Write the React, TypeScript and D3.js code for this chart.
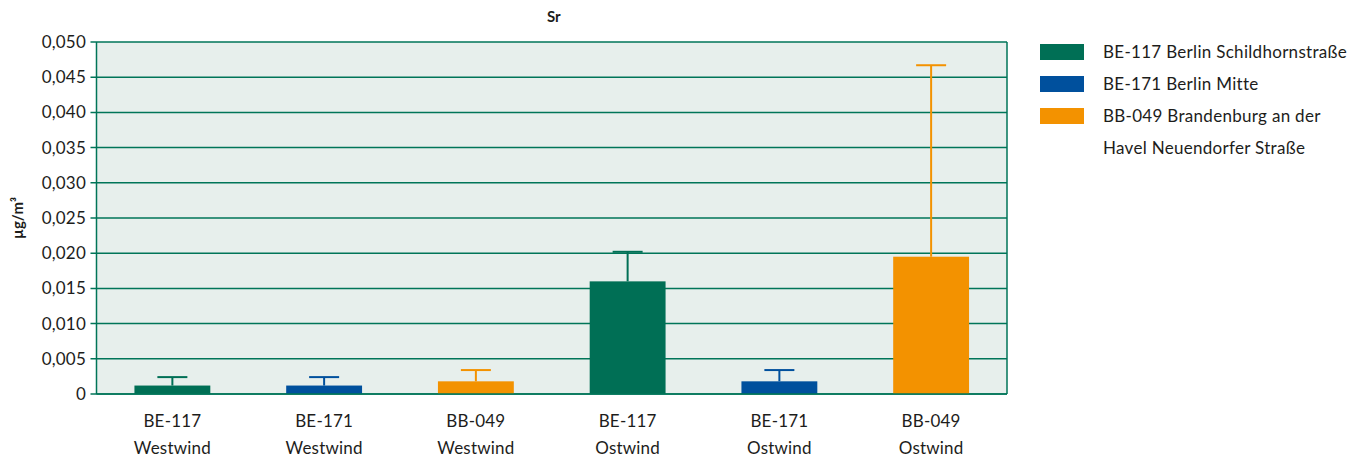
import React from 'react';
import * as d3 from 'd3';

const categories = ['BE-117|Westwind', 'BE-171|Westwind', 'BB-049|Westwind', 'BE-117|Ostwind', 'BE-171|Ostwind', 'BB-049|Ostwind'];
const stations = ['BE-117', 'BE-171', 'BB-049', 'BE-117', 'BE-171', 'BB-049'];
const values = [0.0012, 0.0012, 0.0018, 0.016, 0.0018, 0.0195];
const errorTops = [0.0024, 0.0024, 0.0034, 0.0202, 0.0034, 0.0467];
const yTicks = [0, 0.005, 0.01, 0.015, 0.02, 0.025, 0.03, 0.035, 0.04, 0.045, 0.05];
const legendLabels = ['BE-117 Berlin Schildhornstraße', 'BE-171 Berlin Mitte', 'BB-049 Brandenburg an der|Havel Neuendorfer Straße'];
const legendKeys = ['BE-117', 'BE-171', 'BB-049'];

const colorOf: Record<string, string> = {
  'BE-117': '#006f55',
  'BE-171': '#00509d',
  'BB-049': '#f39200',
};

const font = 'Lato, "Open Sans", sans-serif';
const ink = '#1d1d1b';
const axisGreen = '#007558';

export default function App() {
  const W = 1367;
  const H = 459;
  const left = 96.5;
  const right = 1007;
  const top = 42;
  const bottom = 394;

  const x = d3.scaleBand().domain(categories).range([left, right]).paddingInner(0).paddingOuter(0);
  const y = d3.scaleLinear().domain([0, 0.05]).range([bottom, top]);
  const barW = x.bandwidth() * 0.5;
  const fmt = (v: number) => (v === 0 ? '0' : d3.format('.3f')(v).replace('.', ','));

  return (
    <svg width={W} height={H} style={{ position: 'absolute', left: 0, top: 0 }} fontFamily={font}>
      <rect x={left} y={top} width={right - left} height={bottom - top} fill="#e7efec" />
      {yTicks.map(t => (
        <g key={t}>
          <line x1={left - 6} x2={right} y1={y(t)} y2={y(t)} stroke={axisGreen} strokeWidth={1.5} />
          <text x={86} y={y(t)} dy="0.35em" textAnchor="end" fontSize={17} letterSpacing={0.2} fill={ink}>{fmt(t)}</text>
        </g>
      ))}
      <line x1={left} x2={left} y1={top} y2={bottom} stroke={axisGreen} strokeWidth={1.5} />
      <line x1={right} x2={right} y1={top} y2={bottom} stroke={axisGreen} strokeWidth={1.5} />
      {categories.map((c, i) => {
        const cx = (x(c) as number) + x.bandwidth() / 2;
        const col = colorOf[stations[i]];
        return (
          <g key={c}>
            <line x1={cx} x2={cx} y1={y(values[i])} y2={y(errorTops[i])} stroke={col} strokeWidth={2} />
            <line x1={cx - 15} x2={cx + 15} y1={y(errorTops[i])} y2={y(errorTops[i])} stroke={col} strokeWidth={2} />
            <rect x={cx - barW / 2} y={y(values[i])} width={barW} height={bottom - y(values[i])} fill={col} />
          </g>
        );
      })}
      <line x1={left} x2={right} y1={bottom} y2={bottom} stroke={axisGreen} strokeWidth={1.5} />
      {categories.map(c => {
        const cx = (x(c) as number) + x.bandwidth() / 2;
        const [a, b] = c.split('|');
        return (
          <text key={c + 'l'} x={cx} textAnchor="middle" fontSize={17} letterSpacing={0.2} fill={ink}>
            <tspan x={cx} y={427}>{a}</tspan>
            <tspan x={cx} y={454}>{b}</tspan>
          </text>
        );
      })}
      <text x={(left + right) / 2 + 2} y={22} textAnchor="middle" fontSize={15} fontWeight="bold" fill={ink}>Sr</text>
      <text transform={`translate(23,218) rotate(-90)`} textAnchor="middle" fontSize={15} fontWeight="bold" fill={ink}>
        µg/m³
      </text>
      {legendKeys.map((k, i) => {
        const yy = 44 + i * 32;
        const lines = legendLabels[i].split('|');
        return (
          <g key={k}>
            <rect x={1040} y={yy} width={44} height={16} fill={colorOf[k]} />
            {lines.map((ln, j) => (
              <text key={j} x={1103} y={yy + 14 + j * 32} fontSize={17} letterSpacing={0.3} fill={ink}>{ln}</text>
            ))}
          </g>
        );
      })}
    </svg>
  );
}
